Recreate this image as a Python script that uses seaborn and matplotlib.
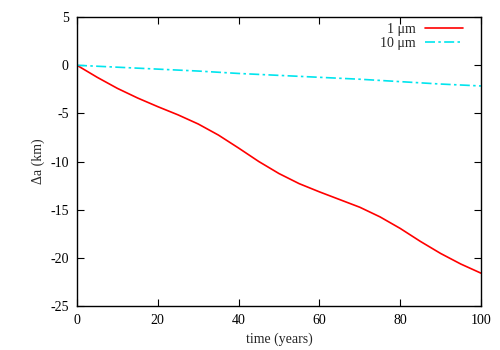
import pandas as pd
import matplotlib
matplotlib.use("Agg")
import matplotlib.pyplot as plt
import seaborn as sns

# values
years_1um = [0, 5, 10, 15, 20, 25, 30, 35, 40, 45, 50, 55, 60, 65, 70, 75, 80, 85, 90, 95, 100]
da_1um = [0, -1.25, -2.4, -3.4, -4.3, -5.15, -6.1, -7.25, -8.6, -10.0, -11.25, -12.3,
          -13.15, -13.95, -14.75, -15.75, -16.95, -18.3, -19.55, -20.65, -21.6]
years_10um = [0, 10, 20, 30, 40, 50, 60, 70, 80, 90, 100]
da_10um = [0, -0.2, -0.4, -0.6, -0.85, -1.05, -1.25, -1.45, -1.7, -1.95, -2.15]

df1 = pd.DataFrame({"t": years_1um, "da": da_1um})
df10 = pd.DataFrame({"t": years_10um, "da": da_10um})

sns.set_theme(style="white")
plt.rcParams["font.family"] = ["Liberation Serif", "DejaVu Serif"]
plt.rcParams["axes.unicode_minus"] = False

fig = plt.figure(figsize=(5, 3.5), dpi=100)
ax = fig.add_axes([0.154, 0.126, 0.808, 0.825])

sns.lineplot(data=df1, x="t", y="da", ax=ax, color="#ff0000", lw=1.2, label="1 \u03bcm")
sns.lineplot(data=df10, x="t", y="da", ax=ax, color="#00e5ee", lw=1.2, label="10 \u03bcm")
ax.lines[1].set_dashes([6, 2, 1.5, 2])

ax.set_xlim(0, 100)
ax.set_ylim(-25, 5)
ax.set_xticks(range(0, 101, 20))
ax.set_yticks(range(-25, 6, 5))
ax.set_xlabel("time (years)", fontsize=10)
ax.set_ylabel("\u0394a (km)", fontsize=10)

for s in ax.spines.values():
    s.set_color("black")
    s.set_linewidth(1.0)
ax.tick_params(direction="in", length=5, width=0.8, labelsize=10, colors="black",
               top=True, right=True, bottom=True, left=True, pad=6)

ax.legend(loc="upper right", bbox_to_anchor=(0.968, 1.0), frameon=False,
          markerfirst=False, fontsize=10, handlelength=2.7, borderaxespad=0,
          labelspacing=0.1, handletextpad=0.7)

fig.savefig("out.png", dpi=100)
